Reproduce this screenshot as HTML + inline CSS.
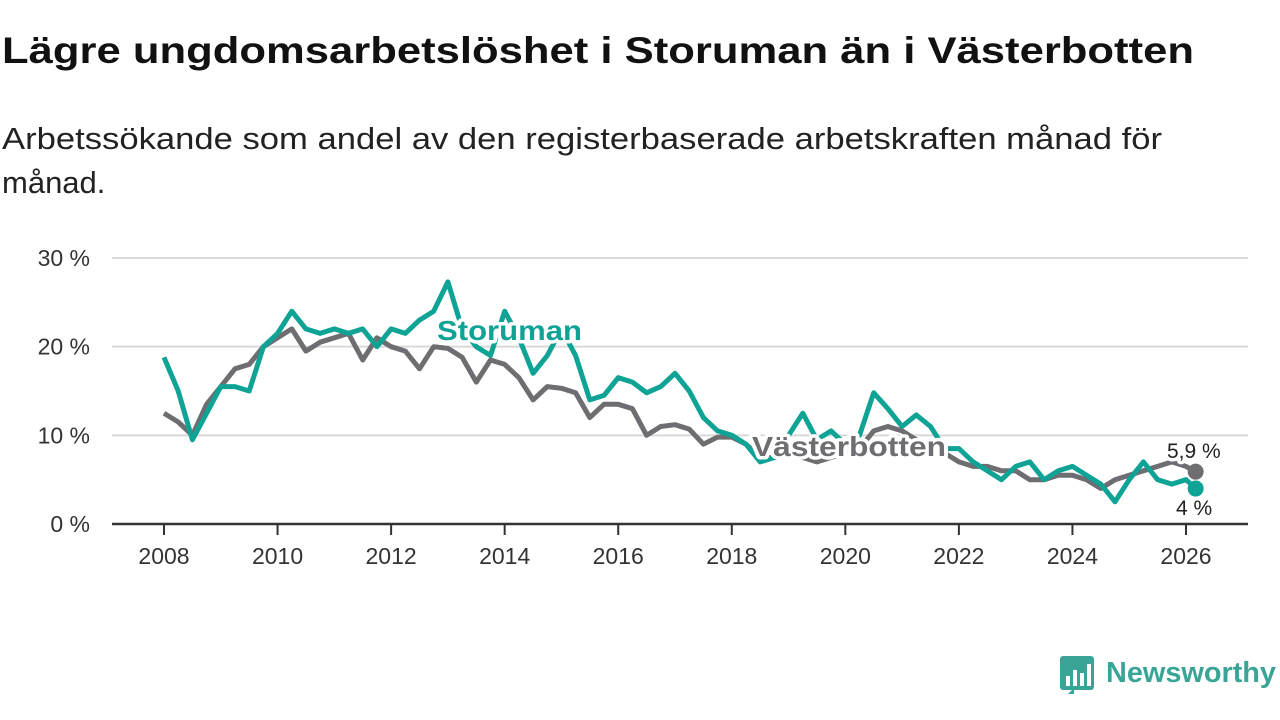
<!DOCTYPE html>
<html><head><meta charset="utf-8"><style>
html,body{margin:0;padding:0;background:#fff;}
svg{display:block;font-family:"Liberation Sans",sans-serif;}
</style></head><body>
<svg id="chart" width="1280" height="720" viewBox="0 0 1280 720">
<text x="2" y="63" font-size="37" font-weight="bold" fill="#111" textLength="1192" lengthAdjust="spacingAndGlyphs">Lägre ungdomsarbetslöshet i Storuman än i Västerbotten</text>
<text x="2" y="149" font-size="31" fill="#222" textLength="1160" lengthAdjust="spacingAndGlyphs">Arbetssökande som andel av den registerbaserade arbetskraften månad för</text>
<text x="2" y="193" font-size="31" fill="#222">månad.</text>
<g id="grid"></g>
<g id="lines"></g>
<g id="labels"></g>
<g>
<rect x="1060" y="656" width="34" height="34" rx="3" fill="#3aa597"/>
<polygon points="1068,694 1074,688 1074,694" fill="#3aa597"/>
<rect x="1066" y="676" width="4" height="10" fill="#fff"/>
<rect x="1073" y="670" width="4" height="16" fill="#fff"/>
<rect x="1080" y="673" width="4" height="13" fill="#fff"/>
<rect x="1087" y="664" width="4" height="22" fill="#fff"/>
<text x="1106" y="682" font-size="29" font-weight="bold" fill="#3aa597" textLength="170" lengthAdjust="spacingAndGlyphs">Newsworthy</text>
</g>
</svg>
<script>
const years = [2008,2010,2012,2014,2016,2018,2020,2022,2024,2026];
const yTicks = [0,10,20,30];
const yTickLabels = ["0 %","10 %","20 %","30 %"];
const storuman = [18.8,15,9.5,12.5,15.5,15.5,15,20,21.5,24,22,21.5,22,21.5,22,20,22,21.5,23,24,27.3,22,20,19,24,21,17,19,22,19,14,14.5,16.5,16,14.8,15.5,17,15,12,10.5,10,9,7,7.5,10,12.5,9.5,10.5,9,10,14.8,13,11,12.3,11,8.5,8.5,7,6,5,6.5,7,5,6,6.5,5.5,4.5,2.5,5,7,5,4.5,5,4];
const vasterbotten = [12.5,11.5,10,13.5,15.5,17.5,18,20,21,22,19.5,20.5,21,21.5,18.5,21,20,19.5,17.5,20,19.8,18.8,16,18.5,18,16.5,14,15.5,15.3,14.8,12,13.5,13.5,13,10,11,11.2,10.7,9,9.8,9.8,9,7.5,7.5,7.8,7.5,7,7.5,8,8.5,10.5,11,10.5,9.5,9,8,7,6.5,6.5,6,6,5,5,5.5,5.5,5,4,5,5.5,6,6.5,7,6.5,5.9];
const lastStoLabel = "4 %";
const lastVasLabel = "5,9 %";
const NS="http://www.w3.org/2000/svg";
const xOf = t => 164 + (t-2008)*(1022/18);
const yOf = v => 524 - v*(266/30);
const tOf = i => i<73 ? 2008 + i*0.25 : 2026.17;
function mk(tag, attrs, parent){const e=document.createElementNS(NS,tag);for(const k in attrs)e.setAttribute(k,attrs[k]);parent.appendChild(e);return e;}
const grid=document.getElementById('grid'), lines=document.getElementById('lines'), labels=document.getElementById('labels');
yTicks.forEach((v,i)=>{
  if(v>0){const g=mk('line',{x1:112,x2:1248,y1:yOf(v),y2:yOf(v),stroke:'#d9d9d9','stroke-width':2},grid);
  
  }
  const t=mk('text',{x:90,y:yOf(v)+8,'text-anchor':'end','font-size':23,fill:'#333'},grid);
  t.textContent=yTickLabels[i];
  
  
});
const ax=mk('line',{x1:112,x2:1248,y1:524,y2:524,stroke:'#333','stroke-width':2.5},grid);


years.forEach(y=>{
  const tk=mk('line',{x1:xOf(y),x2:xOf(y),y1:524,y2:535,stroke:'#333','stroke-width':2},grid);
  
  
  const t=mk('text',{x:xOf(y),y:564,'text-anchor':'middle','font-size':23,fill:'#333'},grid);
  t.textContent=String(y);
  
  
});
function pts(arr){return arr.map((v,i)=>xOf(tOf(i)).toFixed(1)+','+yOf(v).toFixed(1)).join(' ');}
const lv=mk('polyline',{points:pts(vasterbotten),fill:'none',stroke:'#6e6d72','stroke-width':5,'stroke-linejoin':'round'},lines);


const ls=mk('polyline',{points:pts(storuman),fill:'none',stroke:'#0ea394','stroke-width':5,'stroke-linejoin':'round'},lines);


const n=vasterbotten.length-1;
const dv=mk('circle',{cx:xOf(tOf(n)),cy:yOf(vasterbotten[n]),r:8,fill:'#6e6d72'},lines);


const m=storuman.length-1;
const ds=mk('circle',{cx:xOf(tOf(m)),cy:yOf(storuman[m]),r:8,fill:'#0ea394'},lines);


function lab(txt,x,y,size,weight,fill,len){
  const a={x:x,y:y,'font-size':size,'font-weight':weight,fill:fill,stroke:'#fff','stroke-width':7,'paint-order':'stroke','stroke-linejoin':'round'};
  if(len){a.textLength=len;a.lengthAdjust='spacingAndGlyphs';}
  const t=mk('text',a,labels);
  t.textContent=txt;
  return t;
}
const s1=lab('Storuman',437,340,28,'bold','#0ea394',145);


const s2=lab('Västerbotten',752,456,28,'bold','#6e6d72',194);


const s3=lab(lastVasLabel,1167,458,21,'normal','#222');


const s4=lab(lastStoLabel,1176,515,21,'normal','#222');


</script>
</body></html>
